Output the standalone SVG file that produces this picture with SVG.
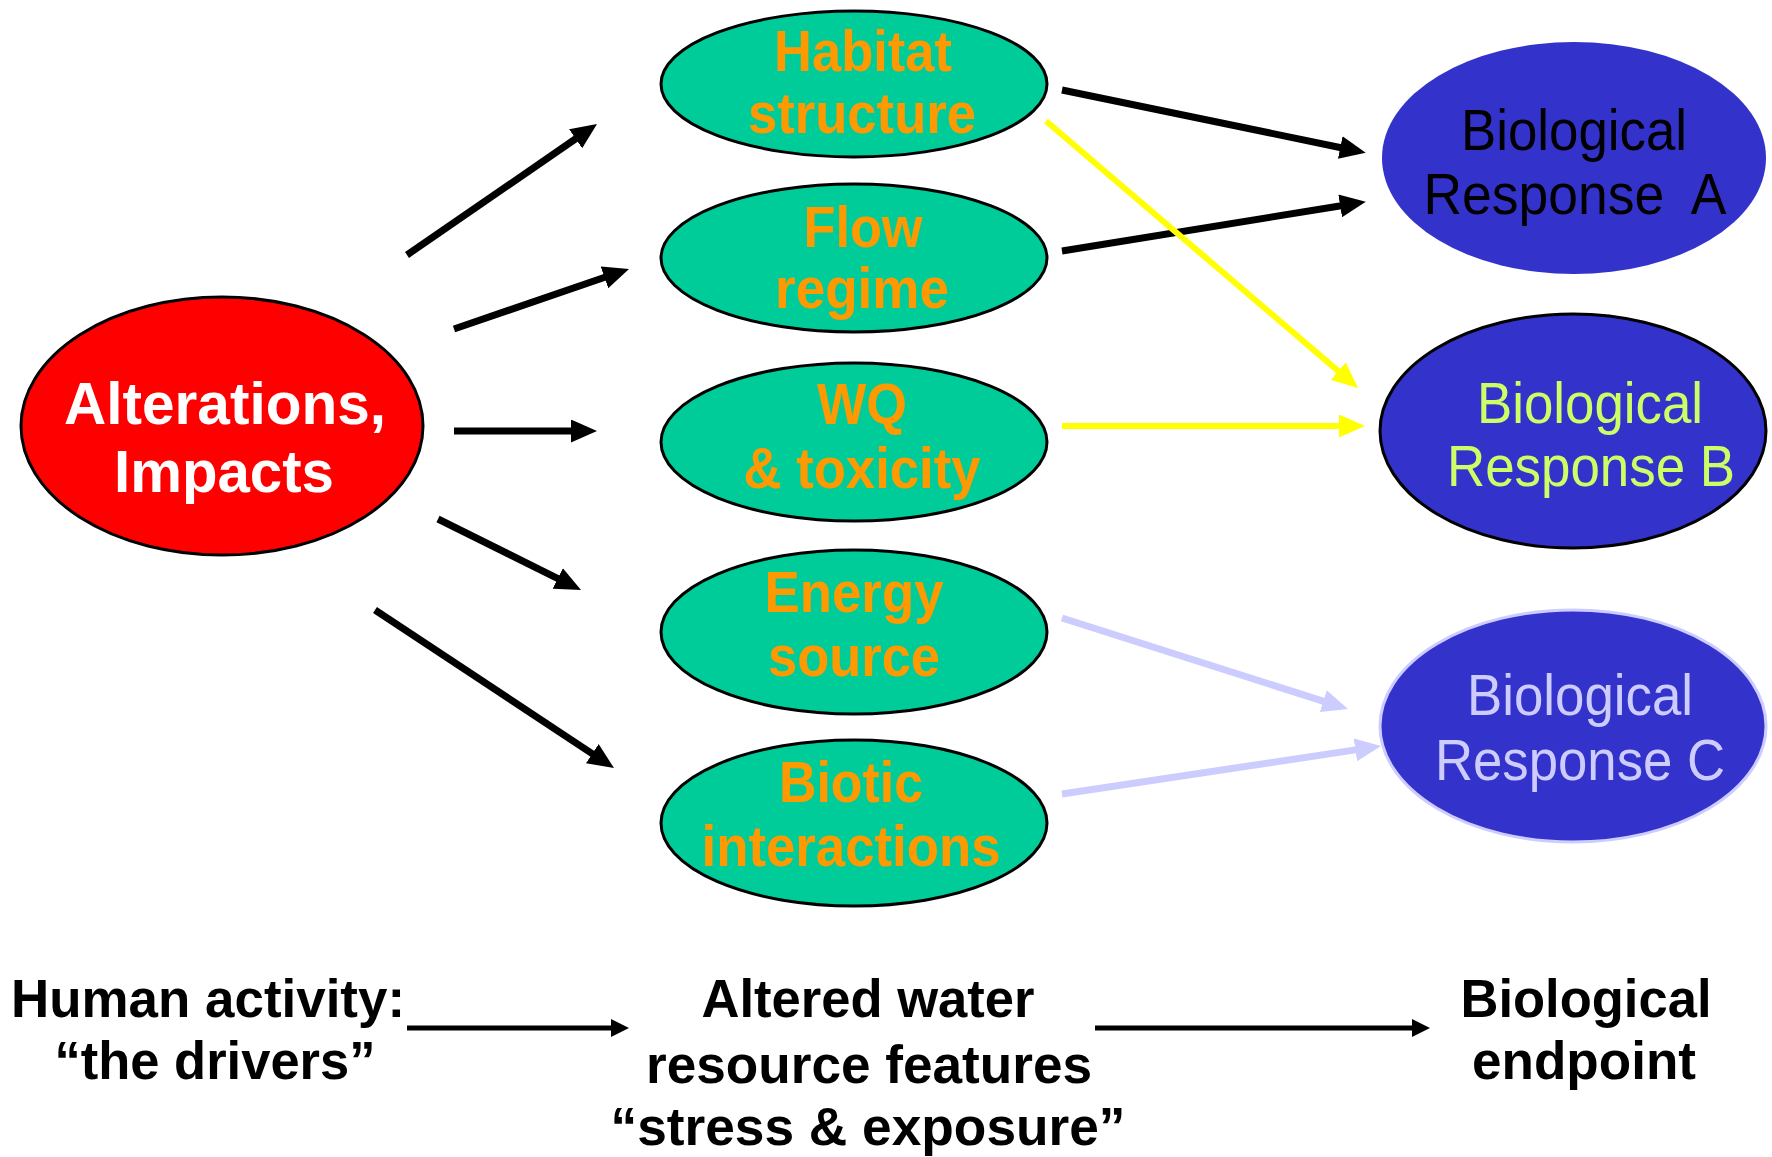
<svg xmlns="http://www.w3.org/2000/svg" width="1772" height="1157" viewBox="0 0 1772 1157">
  <style>
    .lbl { font-family: "Liberation Sans", Arial, sans-serif; text-anchor: middle; }
    .drv { fill: #FF0000; stroke: #000; stroke-width: 3; }
    .drv-t { font-weight: bold; font-size: 60px; fill: #FFFFFF; }
    .feat { fill: #00CC99; stroke: #000; stroke-width: 3; }
    .feat-t { font-weight: bold; font-size: 57px; fill: #FF9900; }
    .resp { fill: #3333CC; }
    .resp-t { font-size: 57px; }
    .foot { font-weight: bold; font-size: 53px; fill: #000; }
    .c-black { stroke: #000; stroke-width: 7; fill: none; }
    .c-yellow { stroke: #FFFF00; stroke-width: 6; fill: none; }
    .c-lav { stroke: #CCCCFF; stroke-width: 7; fill: none; }
    .c-foot { stroke: #000; stroke-width: 5; fill: none; }
  </style>
  <defs>
    <marker id="ah-black" markerUnits="userSpaceOnUse" markerWidth="26" markerHeight="23" refX="12" refY="11.5" orient="auto">
      <path d="M0,0 L26,11.5 L0,23 z" fill="#000"/>
    </marker>
    <marker id="ah-yellow" markerUnits="userSpaceOnUse" markerWidth="26" markerHeight="23" refX="12" refY="11.5" orient="auto">
      <path d="M0,0 L26,11.5 L0,23 z" fill="#FFFF00"/>
    </marker>
    <marker id="ah-lav" markerUnits="userSpaceOnUse" markerWidth="26" markerHeight="23" refX="12" refY="11.5" orient="auto">
      <path d="M0,0 L26,11.5 L0,23 z" fill="#CCCCFF"/>
    </marker>
    <marker id="ah-foot" markerUnits="userSpaceOnUse" markerWidth="18" markerHeight="18" refX="7" refY="9" orient="auto">
      <path d="M0,0 L18,9 L0,18 z" fill="#000"/>
    </marker>
  </defs>

  <rect width="1772" height="1157" fill="#FFFFFF"/>

  <!-- driver node -->
  <g id="alterations">
    <ellipse class="drv" cx="222" cy="426" rx="201" ry="129"/>
    <text class="lbl drv-t" x="225" y="424" textLength="322" lengthAdjust="spacingAndGlyphs">Alterations,</text>
    <text class="lbl drv-t" x="224" y="492" textLength="220" lengthAdjust="spacingAndGlyphs">Impacts</text>
  </g>

  <!-- altered water resource features -->
  <g id="habitat">
    <ellipse class="feat" cx="854" cy="84" rx="193" ry="73"/>
    <text class="lbl feat-t" x="863" y="71" textLength="178" lengthAdjust="spacingAndGlyphs">Habitat</text>
    <text class="lbl feat-t" x="862" y="133" textLength="228" lengthAdjust="spacingAndGlyphs">structure</text>
  </g>
  <g id="flow">
    <ellipse class="feat" cx="854" cy="258" rx="193" ry="74"/>
    <text class="lbl feat-t" x="863" y="247" textLength="119" lengthAdjust="spacingAndGlyphs">Flow</text>
    <text class="lbl feat-t" x="862" y="308" textLength="174" lengthAdjust="spacingAndGlyphs">regime</text>
  </g>
  <g id="wq">
    <ellipse class="feat" cx="854" cy="442" rx="193" ry="79"/>
    <text class="lbl feat-t" x="862" y="424" textLength="90" lengthAdjust="spacingAndGlyphs">WQ</text>
    <text class="lbl feat-t" x="862" y="488" textLength="237" lengthAdjust="spacingAndGlyphs">&amp; toxicity</text>
  </g>
  <g id="energy">
    <ellipse class="feat" cx="854" cy="632" rx="193" ry="82"/>
    <text class="lbl feat-t" x="854" y="612" textLength="179" lengthAdjust="spacingAndGlyphs">Energy</text>
    <text class="lbl feat-t" x="854" y="676" textLength="172" lengthAdjust="spacingAndGlyphs">source</text>
  </g>
  <g id="biotic">
    <ellipse class="feat" cx="854" cy="823" rx="193" ry="83"/>
    <text class="lbl feat-t" x="851" y="802" textLength="144" lengthAdjust="spacingAndGlyphs">Biotic</text>
    <text class="lbl feat-t" x="851" y="866" textLength="299" lengthAdjust="spacingAndGlyphs">interactions</text>
  </g>

  <!-- biological responses -->
  <g id="response-a">
    <ellipse class="resp" cx="1574" cy="158" rx="192" ry="116"/>
    <text class="lbl resp-t" x="1574" y="150" fill="#000" textLength="226" lengthAdjust="spacingAndGlyphs">Biological</text>
    <text class="lbl resp-t" x="1575" y="214" fill="#000" textLength="303" lengthAdjust="spacingAndGlyphs">Response&#160; A</text>
  </g>
  <g id="response-b">
    <ellipse class="resp" cx="1573" cy="431" rx="193" ry="117" stroke="#000" stroke-width="3"/>
    <text class="lbl resp-t" x="1590" y="423" fill="#CCFF66" textLength="226" lengthAdjust="spacingAndGlyphs">Biological</text>
    <text class="lbl resp-t" x="1591" y="486" fill="#CCFF66" textLength="288" lengthAdjust="spacingAndGlyphs">Response B</text>
  </g>
  <g id="response-c">
    <ellipse class="resp" cx="1573" cy="726" rx="193" ry="116" stroke="#CCCCFF" stroke-width="3"/>
    <text class="lbl resp-t" x="1580" y="715" fill="#CCCCFF" textLength="226" lengthAdjust="spacingAndGlyphs">Biological</text>
    <text class="lbl resp-t" x="1580" y="780" fill="#CCCCFF" textLength="290" lengthAdjust="spacingAndGlyphs">Response C</text>
  </g>

  <!-- footer labels -->
  <g id="drivers-label">
    <text class="lbl foot" x="208" y="1017" textLength="394" lengthAdjust="spacingAndGlyphs">Human activity:</text>
    <text class="lbl foot" x="215" y="1079" textLength="321" lengthAdjust="spacingAndGlyphs">“the drivers”</text>
  </g>
  <g id="features-label">
    <text class="lbl foot" x="868" y="1017" textLength="333" lengthAdjust="spacingAndGlyphs">Altered water</text>
    <text class="lbl foot" x="869" y="1083" textLength="446" lengthAdjust="spacingAndGlyphs">resource features</text>
    <text class="lbl foot" x="868" y="1145" textLength="515" lengthAdjust="spacingAndGlyphs">“stress &amp; exposure”</text>
  </g>
  <g id="endpoint-label">
    <text class="lbl foot" x="1586" y="1017" textLength="251" lengthAdjust="spacingAndGlyphs">Biological</text>
    <text class="lbl foot" x="1584" y="1079" textLength="224" lengthAdjust="spacingAndGlyphs">endpoint</text>
  </g>

  <!-- connectors -->
  <g id="connectors">
    <line class="c-black" x1="407" y1="255" x2="585.5" y2="132" marker-end="url(#ah-black)"/>
    <line class="c-black" x1="454" y1="329" x2="615.8" y2="273.5" marker-end="url(#ah-black)"/>
    <line class="c-black" x1="454" y1="431" x2="583" y2="431" marker-end="url(#ah-black)"/>
    <line class="c-black" x1="438" y1="519" x2="568.5" y2="583.8" marker-end="url(#ah-black)"/>
    <line class="c-black" x1="375" y1="610" x2="602.3" y2="760.3" marker-end="url(#ah-black)"/>

    <line class="c-black" x1="1062" y1="90" x2="1352" y2="150" marker-end="url(#ah-black)"/>
    <line class="c-black" x1="1062" y1="251" x2="1352" y2="204" marker-end="url(#ah-black)"/>
    <line class="c-yellow" x1="1046" y1="121" x2="1347.4" y2="378.9" marker-end="url(#ah-yellow)"/>
    <line class="c-yellow" x1="1062" y1="426" x2="1351" y2="426" marker-end="url(#ah-yellow)"/>
    <line class="c-lav" x1="1062" y1="618" x2="1334.7" y2="704.8" marker-end="url(#ah-lav)"/>
    <line class="c-lav" x1="1062" y1="794" x2="1367.2" y2="748.1" marker-end="url(#ah-lav)"/>

    <line class="c-foot" x1="407" y1="1028" x2="618" y2="1028" marker-end="url(#ah-foot)"/>
    <line class="c-foot" x1="1095" y1="1028" x2="1419" y2="1028" marker-end="url(#ah-foot)"/>
  </g>
</svg>
